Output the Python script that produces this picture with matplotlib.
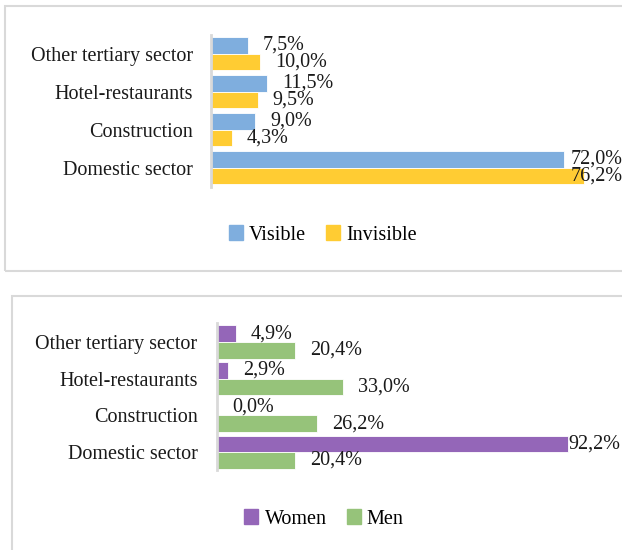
import matplotlib
matplotlib.use("Agg")
import matplotlib.pyplot as plt
from matplotlib.patches import Rectangle, Patch

plt.rcParams['font.family'] = ['Liberation Serif', 'DejaVu Serif']

categories = ["Domestic sector", "Construction", "Hotel-restaurants", "Other tertiary sector"]
visible = [72.0, 9.0, 11.5, 7.5]
invisible = [76.2, 4.3, 9.5, 10.0]
women = [92.2, 0.0, 2.9, 4.9]
men = [20.4, 26.2, 33.0, 20.4]

top_series = [("Visible", visible, "#7FAEDE"), ("Invisible", invisible, "#FFCC33")]
bot_series = [("Women", women, "#9466B8"), ("Men", men, "#96C37A")]

W, H = 622, 550
FS = 14.5
fig = plt.figure(figsize=(W / 100, H / 100), dpi=100)

def px_axes(x0, y0, x1, y1):
    return fig.add_axes([x0 / W, 1 - y1 / H, (x1 - x0) / W, (y1 - y0) / H])

def fmt(v):
    return f"{v:.1f}%".replace(".", ",")

def draw_panel(ax, series, ylim, bar_h, xmax, label_limit, tick_pad, width_px):
    ax.set_xlim(0, xmax)
    ax.set_ylim(*ylim)
    scale = width_px / xmax  # px per unit
    ys = list(range(len(categories)))
    offs = [bar_h / 2, -bar_h / 2]
    for (name, vals, col), off in zip(series, offs):
        pos = [y + off for y in ys]
        ax.barh(pos, vals, height=bar_h, color=col, edgecolor="white", linewidth=0.6)
        for p, v in zip(pos, vals):
            lx = min(v + 15 / scale, label_limit)
            ax.text(lx, p, fmt(v), ha="left", va="center", fontsize=FS, color="#1a1a1a")
    ax.set_yticks(ys)
    ax.set_yticklabels(categories, fontsize=FS, color="#1a1a1a")
    ax.tick_params(axis="y", length=0, pad=tick_pad)
    ax.set_xticks([])
    for s in ["top", "right", "bottom"]:
        ax.spines[s].set_visible(False)
    ax.spines["left"].set_color("#D9D9D9")
    ax.spines["left"].set_linewidth(2)
    ax.patch.set_alpha(0)

# Panel borders
fig.patches.append(Rectangle((5 / W, 1 - 271 / H), 640 / W, 265 / H, transform=fig.transFigure,
                             fill=False, edgecolor="#D9D9D9", linewidth=1.5))
fig.patches.append(Rectangle((12 / W, 1 - 560 / H), 640 / W, 264 / H, transform=fig.transFigure,
                             fill=False, edgecolor="#D9D9D9", linewidth=1.5))

# Top panel
ax1 = px_axes(211, 35, 622, 187)
draw_panel(ax1, top_series, (-0.513, 3.487), 0.44, 411 / 4.9, (571 - 211) / 4.9, 13, 411)
fig.legend(handles=[Patch(color=c, label=n) for n, _, c in top_series],
           loc="center", bbox_to_anchor=(323 / W, 1 - 235 / H), ncol=2, frameon=False,
           fontsize=FS, handlelength=0.7, handleheight=0.7, handletextpad=0.3, columnspacing=1.0)

# Bottom panel
ax2 = px_axes(217, 323, 622, 470)
draw_panel(ax2, bot_series, (-0.49, 3.518), 0.45, 405 / 3.81, (568 - 217) / 3.81, 14, 405)
fig.legend(handles=[Patch(color=c, label=n) for n, _, c in bot_series],
           loc="center", bbox_to_anchor=(324 / W, 1 - 519 / H), ncol=2, frameon=False,
           fontsize=FS, handlelength=0.7, handleheight=0.7, handletextpad=0.3, columnspacing=1.0)

fig.savefig("out.png", dpi=100, facecolor="white")
